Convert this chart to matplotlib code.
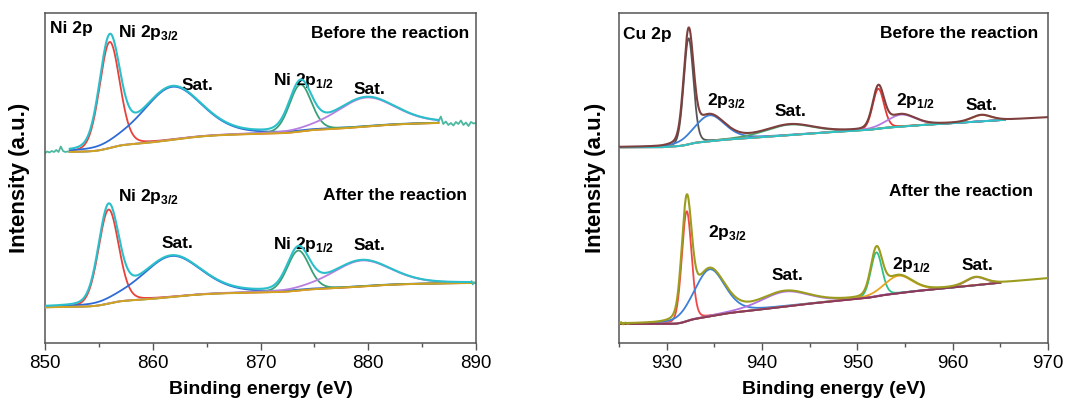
import numpy as np
import matplotlib
matplotlib.use('Agg')
import matplotlib.pyplot as plt
from matplotlib.ticker import MultipleLocator

plt.rcParams['font.family'] = ['Liberation Sans', 'DejaVu Sans']
plt.rcParams['mathtext.fontset'] = 'custom'
plt.rcParams['mathtext.rm'] = 'Liberation Sans'
plt.rcParams['mathtext.bf'] = 'Liberation Sans:bold'

# ---- Ni 2p fit: 2p3/2, sat., 2p1/2, sat. ----
ni_fwhm = [2.2, 6.5, 2.4, 6.5]
ni_mix = [0.15, 0.3, 0.15, 0.3]
ni_before_centers = [856.0, 861.8, 873.7, 879.8]
ni_before_heights = [106, 53, 47, 29]
ni_after_centers = [855.9, 861.75, 873.5, 879.4]
ni_after_heights = [94, 41, 40, 26]
ni_before_bg = [191.0, 220.0]
ni_after_bg = [35.7, 60.0]
ni_before_window = [852.3, 886.5]
ni_after_window = [850.0, 889.5]
# raw spectrum outside the fitted window
ni_before_raw_lo = [190, 191.5, 190.5, 192, 191, 193, 191, 196.5, 192, 191, 191.5, 191]
ni_before_raw_hi = [221, 226.5, 219, 221.5, 218, 220, 217.5, 221, 219, 222.5,
                    218, 220.5, 217, 221, 219.5, 220]
ni_after_raw_hi = [60, 62, 58.5, 61, 59.5, 60.5]

# ---- Cu 2p fit: 2p3/2, 2p3/2 (shoulder), sat., 2p1/2, 2p1/2 (shoulder), sat. ----
cu_fwhm = [1.2, 3.8, 6.0, 1.4, 3.5, 2.5]
cu_mix = [0.15, 0.3, 0.3, 0.15, 0.3, 0.3]
cu_before_centers = [932.3, 934.5, 942.9, 952.2, 954.6, 963.0]
cu_before_heights = [106, 26, 10.5, 40, 12, 6.3]
cu_after_centers = [932.1, 934.5, 942.4, 952.0, 954.3, 962.4]
cu_after_heights = [110, 47, 15, 44, 17.5, 8]
cu_before_bg = [195.7, 225.7]
cu_after_bg = [19.0, 64.7]
cu_before_bg_start = 929.5
cu_after_bg_start = 931.0
cu_after_raw_lo = [19, 21, 18.5, 20.5, 19, 19.5]

ni_colors = ['#e8413a', '#2e6bd6', '#3aa078', '#b77fe0']
cu_before_colors = ['#555555', '#3b7fd8', '#4aa36a', '#e53935', '#b57be0', '#e0a030']
cu_after_colors = ['#f04848', '#3b7fd8', '#b070e0', '#2fc08a', '#e6a520', '#c06080']


def peak(e, c, w, eta, h):
    u = (e - c) / w
    return h * ((1 - eta) * np.exp(-4 * np.log(2) * u ** 2) + eta / (1 + 4 * u ** 2))


def background(e, comps, lo, hi, e0, e1, shirley):
    area = np.cumsum(np.sum(comps, axis=0))
    frac = area / area[-1]
    lin = np.clip((e - e0) / (e1 - e0), 0, 1)
    return lo + (hi - lo) * (shirley * frac + (1 - shirley) * lin)


def draw_fit(ax, e, centers, fwhm, mix, heights, colors, bg_lo, bg_hi, e0, e1,
             shirley, bg_color, total_color, fit_end=None):
    comps = np.array([peak(e, c, w, m, h)
                      for c, w, m, h in zip(centers, fwhm, mix, heights)])
    bg = background(e, comps, bg_lo, bg_hi, e0, e1, shirley)
    inside = e <= (fit_end if fit_end is not None else e[-1])
    for comp, col in zip(comps, colors):
        ax.plot(e[inside], (bg + comp)[inside], color=col, lw=1.3, zorder=3)
    ax.plot(e[inside], bg[inside], color=bg_color, lw=1.4, zorder=3.5)
    ax.plot(e, bg + comps.sum(axis=0), color=total_color, lw=1.5, zorder=4)


fig = plt.figure(figsize=(10.7, 4.05), dpi=100)
ax1 = fig.add_axes([45 / 1070, 1 - 343 / 405, 431 / 1070, 330 / 405])
ax2 = fig.add_axes([619 / 1070, 1 - 343 / 405, 429 / 1070, 330 / 405])

# Ni 2p, before
e = np.linspace(ni_before_window[0], ni_before_window[1], 700)
draw_fit(ax1, e, ni_before_centers, ni_fwhm, ni_mix, ni_before_heights, ni_colors,
         ni_before_bg[0], ni_before_bg[1], ni_before_window[0], ni_before_window[1],
         0.8, '#d2a31f', '#2bbfcb')
ax1.plot(np.linspace(850, ni_before_window[0], len(ni_before_raw_lo)), ni_before_raw_lo,
         color='#4cb8a0', lw=1.3)
ax1.plot(np.linspace(ni_before_window[1], 890, len(ni_before_raw_hi)), ni_before_raw_hi,
         color='#4cb8a0', lw=1.3)

# Ni 2p, after
e = np.linspace(ni_after_window[0], ni_after_window[1], 700)
draw_fit(ax1, e, ni_after_centers, ni_fwhm, ni_mix, ni_after_heights, ni_colors,
         ni_after_bg[0], ni_after_bg[1], ni_after_window[0], ni_after_window[1],
         0.8, '#d2a31f', '#2bbfcb')
ax1.plot(np.linspace(ni_after_window[1], 890, len(ni_after_raw_hi)), ni_after_raw_hi,
         color='#4cb8a0', lw=1.2)

# Cu 2p, before
e = np.linspace(925, 970, 900)
draw_fit(ax2, e, cu_before_centers, cu_fwhm, cu_mix, cu_before_heights, cu_before_colors,
         cu_before_bg[0], cu_before_bg[1], cu_before_bg_start, 970, 0.25,
         '#2ac3c8', '#7e3f3f', fit_end=965.5)

# Cu 2p, after (raw noise at the low-energy edge drawn over the fit)
e = np.linspace(925, 970, 900)
draw_fit(ax2, e, cu_after_centers, cu_fwhm, cu_mix, cu_after_heights, cu_after_colors,
         cu_after_bg[0], cu_after_bg[1], cu_after_bg_start, 970, 0.25,
         '#8a3a5a', '#9c9c1e', fit_end=965.0)
ax2.plot(np.linspace(925, 926.1, len(cu_after_raw_lo)), cu_after_raw_lo,
         color='#9c9c1e', lw=1.3, zorder=5)

bold = dict(fontsize=12.5, fontweight='bold', va='center')
ax1.text(850.5, 314, 'Ni 2p', ha='left', **bold)
ax1.text(889.4, 309, 'Before the reaction', ha='right', **bold)
ax1.text(889.2, 148, 'After the reaction', ha='right', **bold)
for y3, ys, y1, ys2, xs in [(310, 257, 263, 254, 862.7), (147, 100, 98, 97, 860.8)]:
    ax1.text(856.8, y3, r'Ni 2p$_{\mathbf{3/2}}$', ha='left', **bold)
    ax1.text(xs, ys, 'Sat.', ha='left', **bold)
    ax1.text(871.2, y1, r'Ni 2p$_{\mathbf{1/2}}$', ha='left', **bold)
    ax1.text(878.6, ys2, 'Sat.', ha='left', **bold)

ax2.text(925.4, 309, 'Cu 2p', ha='left', **bold)
ax2.text(969.0, 309, 'Before the reaction', ha='right', **bold)
ax2.text(968.4, 152, 'After the reaction', ha='right', **bold)
ax2.text(934.2, 242, r'2p$_{\mathbf{3/2}}$', ha='left', **bold)
ax2.text(941.3, 232, 'Sat.', ha='left', **bold)
ax2.text(954.1, 243, r'2p$_{\mathbf{1/2}}$', ha='left', **bold)
ax2.text(961.4, 238, 'Sat.', ha='left', **bold)
ax2.text(934.3, 110, r'2p$_{\mathbf{3/2}}$', ha='left', **bold)
ax2.text(941.0, 67, 'Sat.', ha='left', **bold)
ax2.text(953.6, 79, r'2p$_{\mathbf{1/2}}$', ha='left', **bold)
ax2.text(960.9, 78, 'Sat.', ha='left', **bold)

for ax, (lo, hi), ylab_x in [(ax1, (850, 890), -0.034), (ax2, (925, 970), -0.031)]:
    ax.set_xlim(lo, hi)
    ax.set_ylim(0, 330)
    ax.xaxis.set_major_locator(MultipleLocator(10))
    ax.xaxis.set_minor_locator(MultipleLocator(5))
    ax.tick_params(axis='x', which='major', direction='out', length=5, width=1,
                   color='#555555', labelsize=13.5, pad=4)
    ax.tick_params(axis='x', which='minor', direction='out', length=3, width=1,
                   color='#555555')
    ax.set_yticks([])
    for sp in ax.spines.values():
        sp.set_color('#555555')
        sp.set_linewidth(1.1)
    ax.set_xlabel('Binding energy (eV)', fontsize=14, fontweight='bold')
    ax.xaxis.set_label_coords(0.5, -0.115)
    ax.set_ylabel('Intensity (a.u.)', fontsize=16, fontweight='bold')
    ax.yaxis.set_label_coords(ylab_x, 0.5)

fig.savefig('out.png', dpi=100)
